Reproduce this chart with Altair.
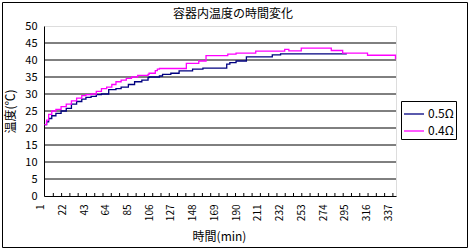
import altair as alt
import pandas as pd

# ---- data (change points of each step series) ----
n_05 = [1, 3, 5, 8, 12, 17, 22, 27, 32, 37, 41, 46, 51, 56, 63, 70, 75, 82, 88, 95,
        101, 102, 112, 115, 123, 131, 144, 154, 177, 180, 186, 196, 221, 229, 293]
t_05 = [21.0, 21.8, 22.8, 23.6, 24.3, 25.0, 25.8, 27.0, 27.8, 28.5, 29.0, 29.3, 29.8, 30.0, 31.3, 31.6, 32.0, 32.8, 33.6, 34.1,
        34.8, 35.0, 35.3, 35.8, 36.1, 36.8, 37.3, 37.6, 38.8, 39.2, 39.7, 40.9, 41.5, 41.8, 41.8]

n_04 = [1, 3, 5, 8, 12, 17, 22, 27, 32, 37, 41, 46, 51, 56, 61, 66, 70, 75, 80, 85,
        91, 101, 102, 108, 110, 112, 138, 150, 157, 178, 186, 205, 233, 237, 249, 278, 289, 313, 340]
t_04 = [21.0, 22.3, 24.0, 25.0, 25.5, 26.3, 27.0, 28.0, 28.8, 29.5, 29.8, 30.0, 30.8, 31.6, 32.0, 32.8, 33.6, 34.1, 34.6, 35.0,
        35.5, 35.8, 36.1, 36.9, 37.3, 37.5, 39.0, 39.7, 41.3, 41.7, 42.0, 42.6, 43.1, 42.7, 43.5, 42.8, 42.0, 41.4, 40.2]

series_names = ["0.5Ω", "0.4Ω"]
series_colors = ["#000080", "#FF00FF"]

x_labels = [1, 22, 43, 64, 85, 106, 127, 148, 169, 190, 211, 232, 253, 274, 295, 316, 337]
x_ticks = [9.5 + 8 * j for j in range(42)]
y_labels = [0, 5, 10, 15, 20, 25, 30, 35, 40, 45, 50]
y_grid = [5, 10, 15, 20, 25, 30, 35, 40, 45]

FONT = "Noto Sans CJK JP"
W, H = 352, 170

df05 = pd.DataFrame({"n": n_05, "t": t_05, "s": series_names[0]})
df04 = pd.DataFrame({"n": n_04, "t": t_04, "s": series_names[1]})

xs = alt.Scale(domain=[0.5, 340.5], nice=False, zero=False)
ys = alt.Scale(domain=[0, 50], nice=False, zero=True)

x_axis = alt.Axis(values=x_labels, labelAngle=270, labelAlign="right", labelBaseline="middle",
                  labelOffset=-4, labelPadding=8, ticks=False, grid=False,
                  domainColor="black", labelColor="black", labelFont=FONT, labelFontSize=10,
                  title="時間(min)", titleFont=FONT, titleFontSize=12, titleFontWeight="normal",
                  titleColor="black", titleX=175, titleY=40, titleBaseline="middle", titleAlign="center")
y_axis = alt.Axis(values=y_labels, ticks=False, grid=False, labelPadding=7,
                  domainColor="black", labelColor="black", labelFont=FONT, labelFontSize=11,
                  title="温度(℃)", titleFont=FONT, titleFontSize=12, titleFontWeight="normal",
                  titleColor="black", titleX=-34, titleY=85, titleAngle=270,
                  titleBaseline="middle", titleAlign="center")

legend = alt.Legend(orient="none", legendX=357, legendY=75, title=None, symbolType="stroke",
                    symbolSize=400, symbolStrokeWidth=1.3, labelFont=FONT, labelFontSize=12,
                    labelColor="black", strokeColor="black", fillColor="white", padding=2,
                    rowPadding=-4, labelOffset=3, cornerRadius=0)

color = alt.Color("s:N", scale=alt.Scale(domain=series_names, range=series_colors), legend=legend)

border = alt.Chart(pd.DataFrame({"b": [0]})).mark_rect(
    fillOpacity=0, stroke="black", strokeWidth=1
).encode(x=alt.value(-41.5), x2=alt.value(423.5), y=alt.value(-23.5), y2=alt.value(221.5))

grid = alt.Chart(pd.DataFrame({"g": y_grid})).mark_rule(color="black", strokeWidth=1).encode(
    y=alt.Y("g:Q", scale=ys, axis=y_axis)
)

ticks = alt.Chart(pd.DataFrame({"k": x_ticks})).mark_rule(color="black", strokeWidth=1).encode(
    x=alt.X("k:Q", scale=xs, axis=x_axis), y=alt.value(H - 3), y2=alt.value(H)
)


def line(df):
    return alt.Chart(df).mark_line(interpolate="step-after", strokeWidth=1.3).encode(
        x=alt.X("n:Q", scale=xs, axis=x_axis),
        y=alt.Y("t:Q", scale=ys, axis=y_axis),
        color=color,
    )


chart = alt.layer(border, grid, line(df05), line(df04), ticks).properties(
    width=W, height=H,
    autosize=alt.AutoSizeParams(type="none"),
    padding={"left": 44, "top": 26, "right": 76, "bottom": 55},
    title=alt.TitleParams("容器内温度の時間変化", font=FONT, fontSize=12, fontWeight="normal",
                          anchor="middle", dx=13, offset=-19, color="black"),
).configure_view(
    fill="#C0C0C0", stroke="#808080", strokeDash=[1, 1], strokeWidth=1
).configure(background="white")

chart.save("out.html", embed_options={"renderer": "svg", "actions": False})
